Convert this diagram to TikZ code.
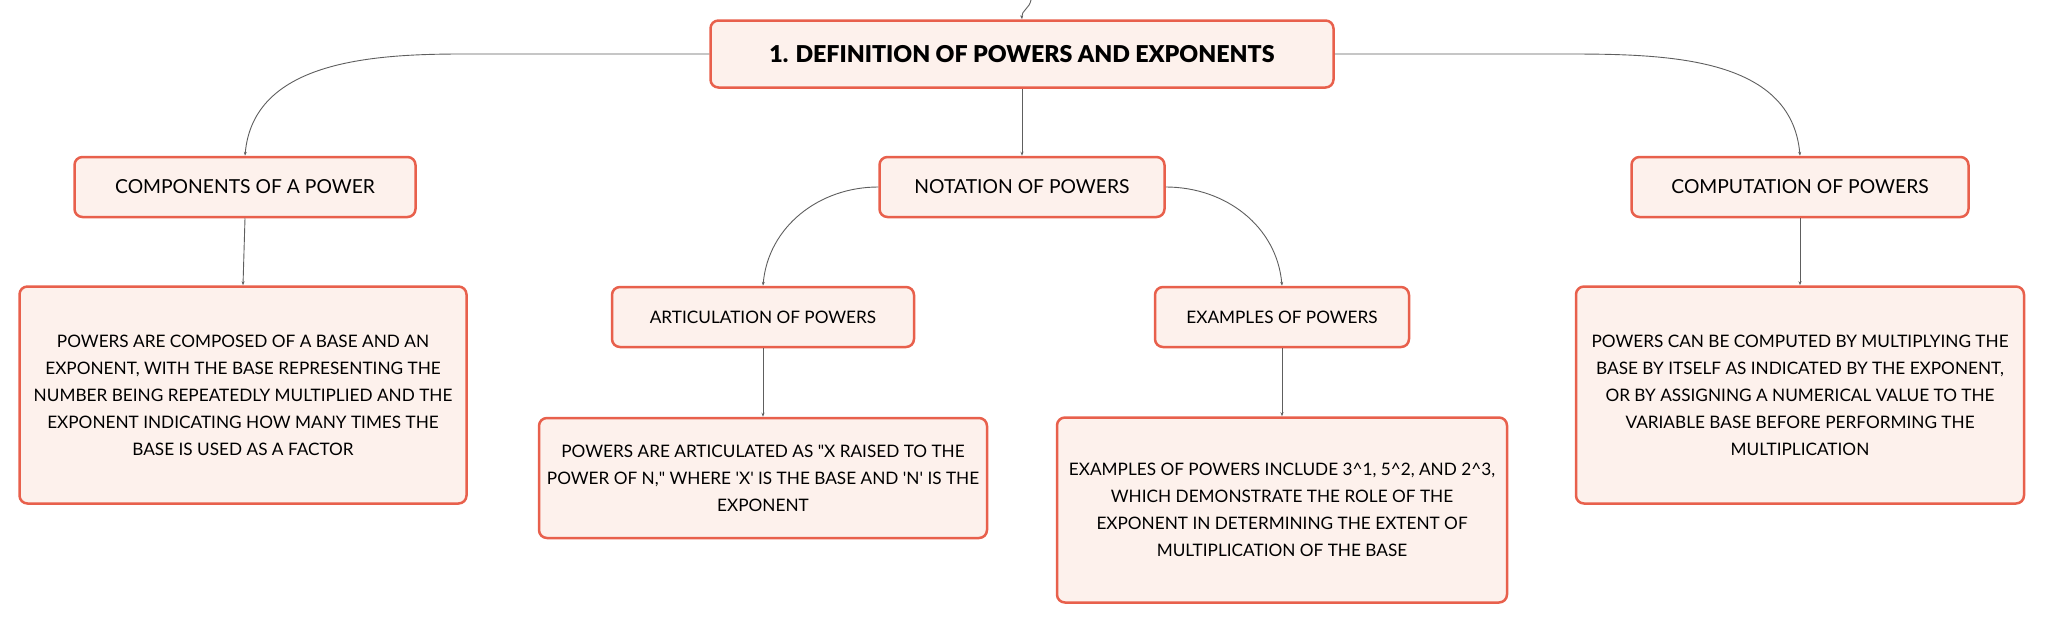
\documentclass[tikz,border=0pt]{standalone}
\usepackage{fontspec}
\setmainfont{Lato}[BoldFont={Lato Black}]
\usetikzlibrary{positioning}
\usetikzlibrary{arrows.meta}
\definecolor{boxline}{HTML}{E8604C}
\definecolor{boxfill}{HTML}{FDF1EC}
\definecolor{linkgray}{HTML}{5E5E5E}

\begin{document}
\begin{tikzpicture}[x=1pt, y=1pt,
                        every node/.style={draw=boxline, fill=boxfill, rounded corners=8pt,
                            line width=2.5pt, inner sep=0pt, align=center,
                            font=\fontsize{17.2}{27}\selectfont},
                        main/.style={minimum height=67pt, font=\fontsize{23.2}{26}\selectfont\bfseries},
                        branch/.style={minimum height=60pt, font=\fontsize{19.3}{24}\selectfont},
                        sub/.style={minimum height=60pt},
                        link/.style={draw=linkgray, line width=0.9pt, -{Stealth[length=4pt,width=3pt]}}]

            \useasboundingbox (0,0) rectangle (2046,-624);

            % main topic
            \node[main, minimum width=623pt] (root) at (1022,-54) {1. DEFINITION OF POWERS AND EXPONENTS};
            \coordinate (up) at (1031,0);

            % branches
            \node[branch, minimum width=341pt] (comp) at (245,-187) {COMPONENTS OF A POWER};
            \node[branch, minimum width=285pt] (note) at (1022,-187) {NOTATION OF POWERS};
            \node[branch, minimum width=337pt] (calc) at (1800,-187) {COMPUTATION OF POWERS};

            % sub topics
            \node[sub, minimum width=302pt] (artic) at (763,-317) {ARTICULATION OF POWERS};
            \node[sub, minimum width=254pt] (examp) at (1282,-317) {EXAMPLES OF POWERS};

            % descriptions
            \node[minimum width=447pt, minimum height=217pt] (compdesc) at (243,-395)
                {POWERS ARE COMPOSED OF A BASE AND AN\\
                 EXPONENT, WITH THE BASE REPRESENTING THE\\
                 NUMBER BEING REPEATEDLY MULTIPLIED AND THE\\
                 EXPONENT INDICATING HOW MANY TIMES THE\\
                 BASE IS USED AS A FACTOR};
            \node[minimum width=448pt, minimum height=120pt] (articdesc) at (763,-478)
                {POWERS ARE ARTICULATED AS \textquotedbl X RAISED TO THE\\
                 POWER OF N,\textquotedbl{} WHERE \textquotesingle X\textquotesingle{} IS THE BASE AND \textquotesingle N\textquotesingle{} IS THE\\
                 EXPONENT};
            \node[minimum width=450pt, minimum height=185pt] (exampdesc) at (1282,-510)
                {EXAMPLES OF POWERS INCLUDE 3\textasciicircum1, 5\textasciicircum2, AND 2\textasciicircum3,\\
                 WHICH DEMONSTRATE THE ROLE OF THE\\
                 EXPONENT IN DETERMINING THE EXTENT OF\\
                 MULTIPLICATION OF THE BASE};
            \node[minimum width=448pt, minimum height=217pt] (calcdesc) at (1800,-395)
                {POWERS CAN BE COMPUTED BY MULTIPLYING THE\\
                 BASE BY ITSELF AS INDICATED BY THE EXPONENT,\\
                 OR BY ASSIGNING A NUMERICAL VALUE TO THE\\
                 VARIABLE BASE BEFORE PERFORMING THE\\
                 MULTIPLICATION};

            % connectors
            \draw[link] (up) to[out=-100,in=95] (root.north);
            \draw[link] (root.west) -- ++(-247,0) to[out=180,in=85] (comp.north);
            \draw[link] (root.south) -- (note.north);
            \draw[link] (root.east) -- ++(231,0) to[out=0,in=95] (calc.north);
            \draw[link] (note.west) to[out=180,in=85] (artic.north);
            \draw[link] (note.east) to[out=0,in=95] (examp.north);
            \draw[link] (comp.south) -- (compdesc.north);
            \draw[link] (artic.south) -- (articdesc.north);
            \draw[link] (examp.south) -- (exampdesc.north);
            \draw[link] (calc.south) -- (calcdesc.north);

        \end{tikzpicture}
\end{document}
